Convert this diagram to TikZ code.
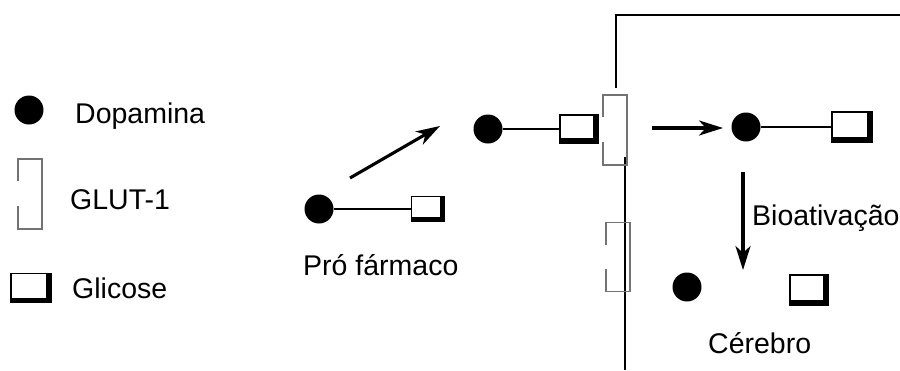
\documentclass[tikz,border=0pt]{standalone}
\usepackage{fontspec}
\setmainfont{Liberation Sans}
\usetikzlibrary{arrows.meta}
\begin{document}
\begin{tikzpicture}[x=1pt,y=-1pt,
  dot/.style={circle,fill=black,minimum size=29pt,inner sep=0pt},
  glc/.style={rectangle,draw=black,line width=1.2pt,minimum width=#1,
    minimum height=28pt,inner sep=0pt,
    path picture={\draw[line width=10pt]
      (path picture bounding box.north east) --
      (path picture bounding box.south east) --
      (path picture bounding box.south west);}},
  glc/.default=38pt,
  bond/.style={line width=2pt},
  flow/.style={line width=3.1pt,-{Stealth[length=24pt,width=15pt,inset=7pt]}},
  membrane/.style={line width=2.3pt},
  lbl/.style={font=\fontsize{28.5}{32}\selectfont,inner sep=0pt,anchor=base west},
  glut/.pic={
    \draw[black!55,line width=1.4pt]
      (-12,{-#1/2+0.32*#1}) -- (-12,-#1/2) -- (12,-#1/2) --
      (12,#1/2) -- (-12,#1/2) -- (-12,{#1/2-0.33*#1});
  }
]
\useasboundingbox (0,0) rectangle (900,370);

% legend
\node[dot] (ldot) at (29,110) {};
\node[lbl] (ltxt1) at (75,123) {Dopamina};
\pic (lglut) at (30,194) {glut=70};
\node[lbl] (ltxt2) at (70,209) {GLUT-1};
\node[glc=40pt,minimum height=29pt] (lbox) at (31,288) {};
\node[lbl] (ltxt3) at (72,298) {Glicose};

% membrane
\coordinate (mtop) at (616,88);
\coordinate (mcorner) at (616,15);
\coordinate (mright) at (900,15);
\coordinate (mlow) at (625,157);
\coordinate (mbottom) at (625,370);
\draw[membrane] (mtop) -- (mcorner) -- (mright);
\draw[membrane] (mlow) -- (mbottom);
\pic (glutA) at (615,130) {glut=70};
\pic (glutB) at (618,257) {glut=69};

% prodrug outside
\node[dot] (d1) at (319,209) {};
\node[glc=33pt,minimum height=25pt] (b1) at (428,209) {};
\draw[bond] (d1) -- (b1);
\node[lbl] (t1) at (303,275) {Pró fármaco};

% prodrug at the transporter
\node[dot] (d2) at (488,129) {};
\node[glc=38pt] (b2) at (579,129) {};
\draw[bond] (d2) -- (b2);

% prodrug inside the brain
\node[dot] (d3) at (746,127) {};
\node[glc=40pt,minimum height=30pt] (b3) at (852,127) {};
\draw[bond] (d3) -- (b3);

% released drug and glucose
\node[dot] (d4) at (687,287) {};
\node[glc=38pt,minimum height=30pt] (b4) at (809,290) {};
\node[lbl] (t2) at (708,353) {Cérebro};

% steps
\coordinate (a1s) at (350,178);
\coordinate (a1e) at (440,126);
\draw[flow] (a1s) -- (a1e);
\coordinate (a2s) at (652,128);
\coordinate (a2e) at (723,128);
\draw[flow] (a2s) -- (a2e);
\coordinate (a3s) at (743,172);
\coordinate (a3e) at (743,270);
\draw[flow] (a3s) -- (a3e);
\node[lbl] (t3) at (752,225) {Bioativação};
\end{tikzpicture}
\end{document}
